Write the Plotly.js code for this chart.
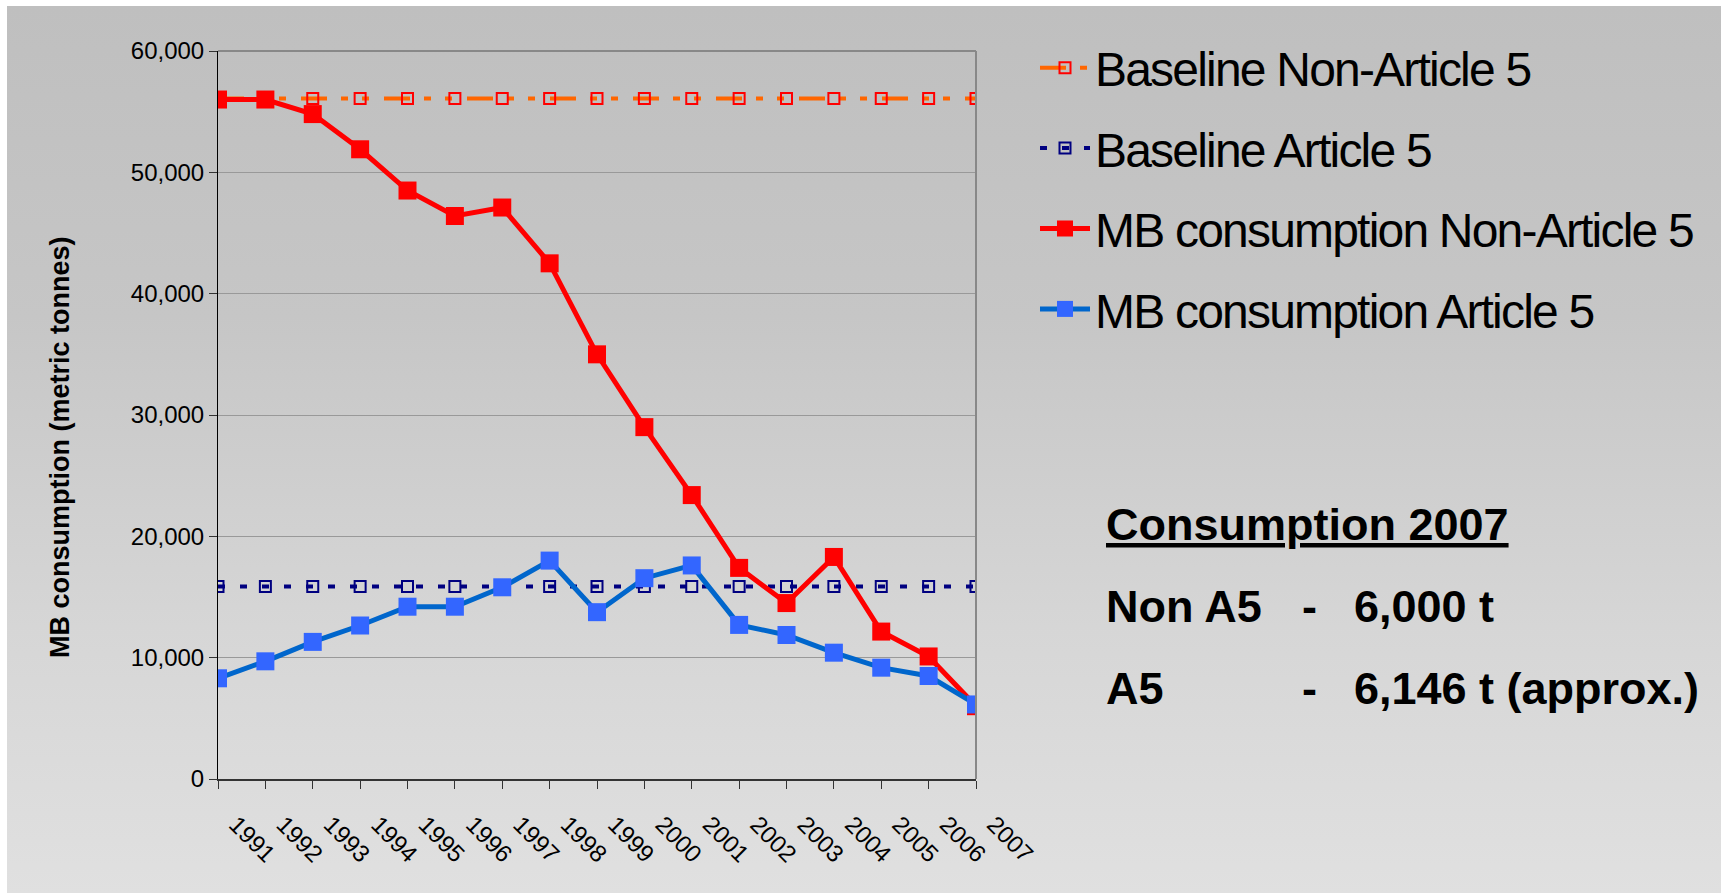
<!DOCTYPE html>
<html><head><meta charset="utf-8">
<script src="https://cdn.plot.ly/plotly-3.0.1.min.js"></script>
<style>
html,body{margin:0;padding:0;background:#fff;width:1732px;height:895px;overflow:hidden}
#bg{position:absolute;left:7px;top:6px;width:1714px;height:887px;background:linear-gradient(#bfbfbf 0%,#c6c6c6 35%,#d6d6d6 70%,#e0e0e0 100%)}
#chart{position:absolute;left:0;top:0;width:1732px;height:895px}
#chart .legendtext{letter-spacing:-1.8px}
</style></head><body><div id="bg"></div><div id="chart"></div>
<script>
// ---- data ----
const years = ['1991','1992','1993','1994','1995','1996','1997','1998','1999','2000','2001','2002','2003','2004','2005','2006','2007'];
const baselineNonA5 = [56083,56083,56083,56083,56083,56083,56083,56083,56083,56083,56083,56083,56083,56083,56083,56083,56083];
const baselineA5 = [15870,15870,15870,15870,15870,15870,15870,15870,15870,15870,15870,15870,15870,15870,15870,15870,15870];
const mbNonA5 = [56000,56000,54800,51900,48500,46400,47100,42500,35000,29000,23400,17400,14500,18300,12150,10100,6000];
const mbA5 = [8300,9700,11300,12650,14200,14200,15800,18000,13750,16550,17600,12700,11870,10410,9175,8490,6146];
const seriesNames = ['Baseline Non-Article 5','Baseline Article 5','MB consumption Non-Article 5','MB consumption Article 5'];
const yTickVals = [0,10000,20000,30000,40000,50000,60000];
const yTitle = 'MB consumption (metric tonnes)';
const boxTitle = 'Consumption 2007';
const boxLabels = ['Non A5','A5'];

// ---- layout helpers (pixel -> paper) ----
const W=1732,H=895,PL=218,PR=976,PT=51,PB=779;
const px = x => (x-PL)/(PR-PL);
const py = y => (PB-y)/(PB-PT);
const FONT = 'Arial, "Liberation Sans", sans-serif';

const traces = [
  {x:years,y:baselineNonA5,name:seriesNames[0],legendgroup:'a',mode:'lines+markers',
   line:{color:'#FF6600',width:4,dash:'26px,14px,7px,14px,7px,15px'},
   marker:{symbol:'square-open',size:11,color:'#FF0000',line:{width:2,color:'#FF0000'}}},
  {x:years,y:baselineA5,name:seriesNames[1],legendgroup:'b',mode:'lines+markers',
   line:{color:'#000080',width:4,dash:'7px,15px'},
   marker:{symbol:'square-open',size:11,color:'#000080',line:{width:2,color:'#000080'}}},
  {x:years,y:mbNonA5,name:seriesNames[2],legendgroup:'c',mode:'lines+markers',
   line:{color:'#FF0000',width:5},
   marker:{symbol:'square',size:18,color:'#FF0000'}},
  {x:years,y:mbA5,name:seriesNames[3],legendgroup:'d',mode:'lines+markers',
   line:{color:'#0066CC',width:5},
   marker:{symbol:'square',size:18,color:'#3366FF'}}
];

const fmt = v => v.toLocaleString('en-US');
const lastN = mbNonA5[mbNonA5.length-1], lastA = mbA5[mbA5.length-1];
const bfont = {family:FONT,size:45,color:'#000',weight:'bold'};
const annotations = [
  {text:yTitle,xref:'paper',yref:'paper',x:px(60),y:py(447),textangle:-90,showarrow:false,
   xanchor:'center',yanchor:'middle',font:{family:FONT,size:27,color:'#000',weight:'bold'}},
  {text:boxTitle,xref:'paper',yref:'paper',x:px(1104),y:py(524),showarrow:false,xanchor:'left',yanchor:'middle',
   font:Object.assign({},bfont,{lineposition:'under'})},
  {text:boxLabels[0],xref:'paper',yref:'paper',x:px(1104),y:py(606),showarrow:false,xanchor:'left',yanchor:'middle',font:bfont},
  {text:'-',xref:'paper',yref:'paper',x:px(1300),y:py(606),showarrow:false,xanchor:'left',yanchor:'middle',font:bfont},
  {text:fmt(lastN)+' t',xref:'paper',yref:'paper',x:px(1352),y:py(606),showarrow:false,xanchor:'left',yanchor:'middle',font:bfont},
  {text:boxLabels[1],xref:'paper',yref:'paper',x:px(1104),y:py(688),showarrow:false,xanchor:'left',yanchor:'middle',font:bfont},
  {text:'-',xref:'paper',yref:'paper',x:px(1300),y:py(688),showarrow:false,xanchor:'left',yanchor:'middle',font:bfont},
  {text:fmt(lastA)+' t (approx.)',xref:'paper',yref:'paper',x:px(1352),y:py(688),showarrow:false,xanchor:'left',yanchor:'middle',font:bfont}
];

const layout = {
  width:W,height:H,
  margin:{l:PL,r:W-PR,t:PT,b:H-PB,pad:0,autoexpand:false},
  paper_bgcolor:'rgba(0,0,0,0)',plot_bgcolor:'rgba(0,0,0,0)',
  font:{family:FONT,color:'#000'},
  showlegend:true,
  legend:{xref:'container',yref:'container',x:1035/W,y:1-30/H,xanchor:'left',yanchor:'top',bgcolor:'rgba(0,0,0,0)',
          font:{family:FONT,size:48,color:'#000'},traceorder:'grouped',tracegroupgap:15,itemwidth:50},
  xaxis:{type:'category',range:[0,years.length-1],showgrid:false,zeroline:false,automargin:false,
         showline:true,linecolor:'#333',linewidth:2,ticks:'outside',ticklen:8,tickcolor:'#333',tickwidth:1,
         tickangle:45,tickfont:{family:FONT,size:24,color:'#000'},ticklabelstandoff:12,ticklabelshift:18},
  yaxis:{range:[0,60000],tickvals:yTickVals,tickformat:',d',showgrid:true,gridcolor:'#999',gridwidth:1,automargin:false,
         zeroline:false,showline:true,linecolor:'#000',linewidth:1,ticks:'outside',ticklen:8,tickcolor:'#333',
         tickfont:{family:FONT,size:24,color:'#000'},ticklabelstandoff:0},
  shapes:[
    {type:'line',xref:'paper',yref:'paper',x0:0,x1:1,y0:1,y1:1,line:{color:'#888',width:2}},
    {type:'line',xref:'paper',yref:'paper',x0:1,x1:1,y0:0,y1:1,line:{color:'#888',width:2}}
  ],
  annotations:annotations
};

Plotly.newPlot('chart',traces,layout,{displayModeBar:false,staticPlot:true});
</script></body></html>
